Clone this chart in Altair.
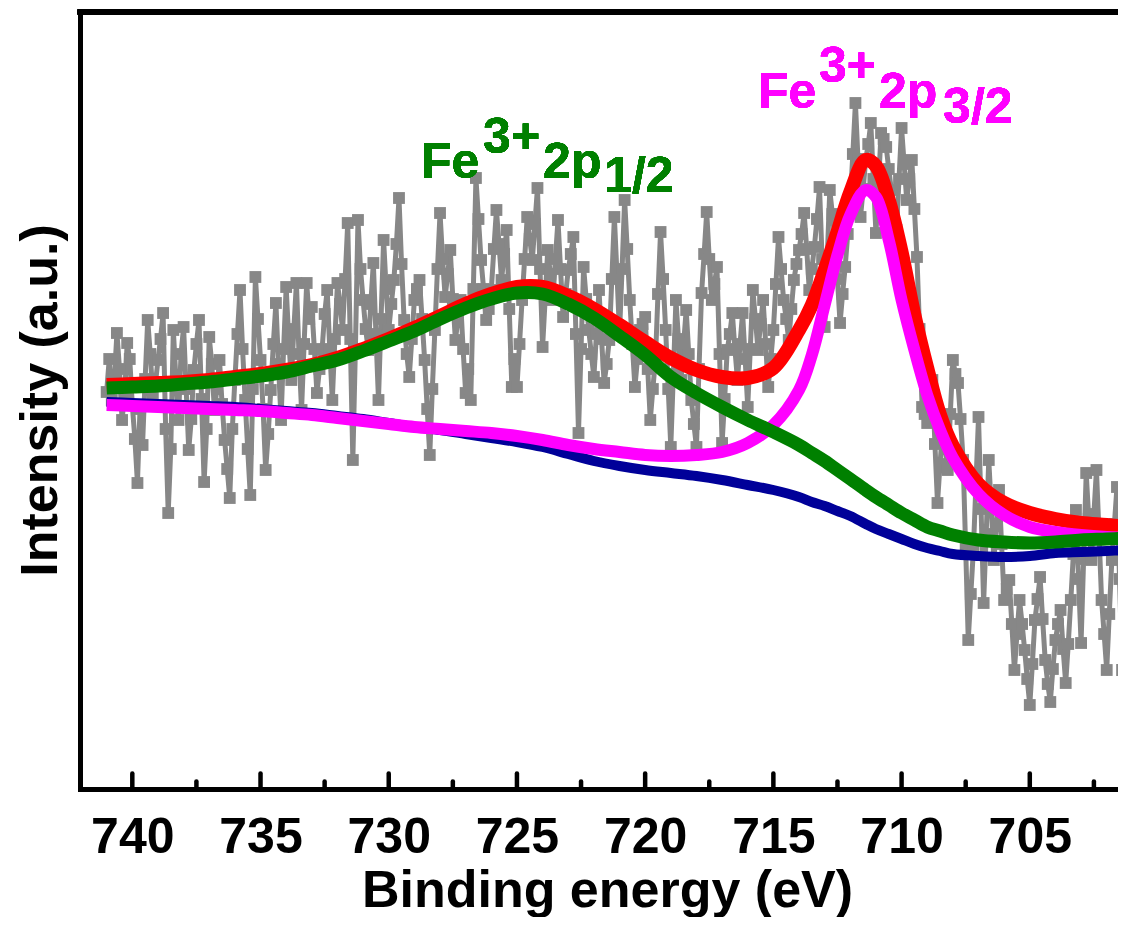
import altair as alt
import pandas as pd

# ---------------- data ----------------
BE_START = 741.0   # first raw point, eV
BE_STEP = 0.1      # scan step, eV

raw_counts = [
    3.97, 4.30, 3.89, 4.10, 4.56, 4.20, 3.69, 3.95, 4.46, 4.30, 3.84, 3.50, 3.06, 3.80, 3.44, 4.10, 4.69, 4.35, 3.94, 4.05,
    4.29, 4.50, 4.76, 3.60, 2.76, 3.40, 4.59, 4.10, 3.69, 4.35, 4.62, 4.00, 3.39, 3.70, 4.19, 4.45, 4.69, 3.90, 3.07, 3.60,
    4.52, 4.25, 3.79, 4.00, 4.29, 3.85, 3.49, 3.20, 2.91, 3.60, 4.09, 4.55, 4.99, 4.40, 3.89, 3.40, 2.94, 4.00, 5.12, 4.70,
    4.29, 3.80, 3.19, 3.55, 3.99, 4.45, 4.86, 4.25, 3.69, 4.40, 5.02, 4.50, 4.09, 4.60, 5.06, 4.35, 3.79, 4.45, 5.06, 4.70,
    4.82, 4.40, 3.96, 4.20, 4.39, 4.75, 4.99, 4.40, 3.89, 4.50, 5.06, 4.85, 4.59, 5.10, 5.66, 4.50, 3.29, 4.40, 5.69, 5.20,
    4.89, 4.60, 4.39, 4.85, 5.26, 4.55, 3.89, 4.70, 5.49, 5.00, 4.59, 4.85, 5.09, 5.45, 5.91, 5.25, 4.69, 4.35, 4.12, 4.50,
    4.89, 5.00, 5.09, 4.70, 4.29, 3.80, 3.34, 4.00, 4.59, 5.20, 5.76, 5.30, 4.92, 5.15, 5.39, 4.90, 4.49, 4.70, 4.89, 4.40,
    3.96, 4.20, 3.89, 5.00, 6.11, 5.70, 5.29, 5.00, 4.69, 4.80, 4.99, 5.40, 5.79, 5.45, 5.09, 5.35, 5.59, 4.80, 4.02, 4.30,
    4.02, 4.45, 4.89, 5.30, 5.72, 5.50, 5.29, 5.65, 6.01, 5.20, 4.42, 4.90, 5.39, 5.15, 4.89, 5.30, 5.69, 5.20, 4.72, 4.95,
    5.19, 5.35, 5.52, 4.55, 3.56, 4.40, 5.22, 4.90, 4.59, 4.35, 4.12, 4.55, 4.99, 4.50, 4.06, 4.25, 4.49, 5.10, 5.72, 5.15,
    4.56, 5.20, 5.89, 5.40, 4.89, 4.45, 4.02, 4.30, 4.59, 4.65, 4.72, 4.20, 3.69, 4.00, 4.29, 4.95, 5.57, 5.10, 4.59, 4.00,
    3.42, 4.15, 4.89, 4.50, 4.09, 4.45, 4.79, 4.35, 3.89, 3.65, 3.42, 4.20, 4.96, 5.35, 5.77, 5.30, 4.89, 5.05, 5.22, 4.35,
    3.46, 3.90, 4.39, 4.55, 4.76, 4.40, 4.09, 4.45, 4.76, 4.30, 3.82, 4.40, 4.99, 4.70, 4.39, 4.65, 4.89, 4.45, 4.02, 4.30,
    4.59, 5.05, 5.52, 5.20, 4.89, 4.70, 4.49, 4.80, 5.09, 5.25, 5.39, 5.55, 5.76, 5.40, 4.99, 5.20, 5.42, 5.70, 6.02, 5.30,
    4.62, 5.30, 5.99, 5.75, 5.49, 5.10, 4.66, 4.95, 5.22, 5.55, 5.89, 6.35, 6.86, 6.30, 5.72, 6.00, 6.29, 6.45, 6.66, 6.10,
    5.56, 6.05, 6.56, 6.50, 6.42, 6.20, 5.99, 5.80, 5.59, 6.10, 6.61, 6.25, 5.89, 6.10, 6.29, 5.80, 5.32, 4.60, 3.82, 3.75,
    3.66, 3.90, 4.09, 3.45, 2.86, 3.25, 3.59, 3.40, 3.19, 3.75, 4.29, 4.15, 4.06, 3.70, 3.29, 2.40, 1.49, 1.95, 2.39, 3.05,
    3.72, 2.80, 1.86, 2.55, 3.29, 2.80, 2.29, 2.65, 2.99, 2.45, 1.89, 2.00, 2.09, 1.65, 1.19, 1.55, 1.89, 1.65, 1.39, 1.10,
    0.84, 1.25, 1.69, 1.90, 2.12, 1.70, 1.29, 1.05, 0.87, 1.20, 1.49, 1.65, 1.79, 1.40, 1.06, 1.45, 1.89, 2.35, 2.79, 2.10,
    1.46, 2.30, 3.16, 2.70, 2.29, 2.75, 3.19, 2.55, 1.89, 1.55, 1.19, 1.75, 2.29, 2.65, 3.02, 2.10, 1.19, 1.45, 1.72,
]
be_raw = [round(BE_START - BE_STEP * i, 1) for i in range(len(raw_counts))]

fit_be = [741, 740, 739, 738, 737, 736, 735, 734, 733, 732, 731, 730, 729, 728,
          727, 726, 725, 724, 723, 722, 721, 720, 719, 718, 717, 716, 715, 714,
          713.5, 713, 712.5, 712, 711.4, 711, 710.5, 710, 709.5, 709, 708.5, 708,
          707, 706, 705, 704, 703, 702, 701.2]

envelope = [4.04, 4.05, 4.06, 4.07, 4.09, 4.12, 4.15, 4.19, 4.24, 4.31, 4.40, 4.50,
            4.61, 4.73, 4.85, 4.95, 5.02, 5.02, 4.93, 4.80, 4.64, 4.47, 4.31, 4.19,
            4.12, 4.11, 4.21, 4.59, 4.84, 5.19, 5.57, 5.97, 6.29, 6.23, 5.89, 5.37,
            4.74, 4.21, 3.74, 3.43, 3.05, 2.86, 2.76, 2.70, 2.66, 2.64, 2.62]

peak_2p12 = [4.01, 4.02, 4.03, 4.05, 4.07, 4.10, 4.13, 4.17, 4.23, 4.29, 4.38, 4.48,
             4.58, 4.70, 4.81, 4.90, 4.96, 4.95, 4.85, 4.71, 4.53, 4.34, 4.12, 3.96,
             3.82, 3.69, 3.57, 3.44, 3.36, 3.28, 3.19, 3.10, 2.99, 2.92, 2.84, 2.76,
             2.69, 2.62, 2.58, 2.54, 2.49, 2.47, 2.46, 2.47, 2.49, 2.50, 2.51]

peak_2p32 = [3.84, 3.83, 3.82, 3.81, 3.80, 3.79, 3.78, 3.76, 3.74, 3.71, 3.68, 3.65,
             3.62, 3.60, 3.58, 3.56, 3.53, 3.49, 3.44, 3.40, 3.37, 3.34, 3.33, 3.34,
             3.37, 3.46, 3.64, 3.99, 4.34, 4.84, 5.34, 5.74, 5.99, 5.92, 5.49, 4.89,
             4.39, 3.94, 3.59, 3.31, 2.95, 2.74, 2.62, 2.57, 2.54, 2.52, 2.51]

background = [3.87, 3.86, 3.85, 3.84, 3.83, 3.82, 3.80, 3.78, 3.76, 3.73, 3.70, 3.66,
              3.62, 3.59, 3.55, 3.51, 3.47, 3.42, 3.35, 3.28, 3.23, 3.19, 3.16, 3.13,
              3.09, 3.04, 2.99, 2.92, 2.87, 2.83, 2.78, 2.73, 2.65, 2.60, 2.55, 2.50,
              2.45, 2.41, 2.38, 2.35, 2.33, 2.32, 2.33, 2.36, 2.37, 2.38, 2.39]

major_ticks = [740, 735, 730, 725, 720, 715, 710, 705]
minor_ticks = [737.5, 732.5, 727.5, 722.5, 717.5, 712.5, 707.5, 702.5]

# ---------------- layout / style ----------------
W, H = 1038, 777
X_DOMAIN = [701.56, 742.04]
Y_DOMAIN = [0, 7.77]
FONT = "Liberation Sans"
GRAY, RED, GREEN, MAGENTA, BLUE = "#878787", "#ff0000", "#008000", "#ff00ff", "#000099"

x_scale = alt.Scale(domain=X_DOMAIN, reverse=True, nice=False, zero=False)
y_scale = alt.Scale(domain=Y_DOMAIN, nice=False, zero=False)

x_axis = alt.Axis(
    values=major_ticks, format="d", title="Binding energy (eV)",
    domain=True, domainColor="black", domainWidth=5, domainCap="square",
    ticks=False, tickSize=0, grid=False,
    labelFont=FONT, labelFontSize=50, labelFontWeight="bold", labelColor="black",
    labelPadding=63, labelBaseline="alphabetic", labelFlush=False, labelOverlap=False,
    titleFont=FONT, titleFontSize=52, titleFontWeight="bold", titleColor="black",
    titleX=527, titleY=117, titleBaseline="alphabetic", titleAlign="center",
)
y_axis = alt.Axis(
    title="Intensity (a.u.)",
    domain=True, domainColor="black", domainWidth=5, domainCap="square",
    ticks=False, labels=False, grid=False,
    titleFont=FONT, titleFontSize=52, titleFontWeight="bold", titleColor="black",
    titleX=-24, titleY=388, titleAngle=270, titleBaseline="alphabetic", titleAlign="center",
)


def X(field):
    return alt.X(field, type="quantitative", scale=x_scale, axis=x_axis)


def Y(field):
    return alt.Y(field, type="quantitative", scale=y_scale, axis=y_axis)


raw_df = pd.DataFrame({"be": be_raw, "I": raw_counts})
fit_df = pd.DataFrame({"be": fit_be, "env": envelope, "p1": peak_2p12,
                       "p2": peak_2p32, "bg": background})

raw_base = alt.Chart(raw_df).encode(x=X("be"), y=Y("I"))
raw_line = raw_base.mark_line(color=GRAY, strokeWidth=5)
raw_pts = raw_base.mark_square(color=GRAY, size=140, opacity=1, filled=True)


def fit_line(col, color, width):
    return alt.Chart(fit_df).mark_line(
        color=color, strokeWidth=width, interpolate="catmull-rom"
    ).encode(x=X("be"), y=Y(col))


red = fit_line("env", RED, 14)
blue = fit_line("bg", BLUE, 10)
magenta = fit_line("p2", MAGENTA, 12)
green = fit_line("p1", GREEN, 13)

major_df = pd.DataFrame({"t": major_ticks})
minor_df = pd.DataFrame({"t": minor_ticks})
major = alt.Chart(major_df).mark_rule(color="black", strokeWidth=4.5, strokeCap="round").encode(
    x=X("t"), y=alt.value(H), y2=alt.value(H - 15.5))
minor = alt.Chart(minor_df).mark_rule(color="black", strokeWidth=4.5, strokeCap="round").encode(
    x=X("t"), y=alt.value(H), y2=alt.value(H - 7.5))

top_frame = alt.Chart(major_df).mark_rule(color="black", strokeWidth=5).encode(
    x=alt.value(-2.5), x2=alt.value(W), y=alt.value(0))


def label(text, be, inten, color):
    return alt.Chart(major_df).mark_text(
        text=text, font=FONT, fontSize=50, fontWeight="bold", color=color,
        align="left", baseline="alphabetic",
    ).encode(
        x=alt.X(datum=be, type="quantitative", scale=x_scale, axis=x_axis),
        y=alt.Y(datum=inten, type="quantitative", scale=y_scale, axis=y_axis),
    )


labels = [
    label("Fe", 728.74, 6.11, GREEN),
    label("3+", 726.32, 6.36, GREEN),
    label("2p", 723.98, 6.11, GREEN),
    label("1/2", 721.60, 5.97, GREEN),
    label("Fe", 715.60, 6.81, MAGENTA),
    label("3+", 713.22, 7.07, MAGENTA),
    label("2p", 710.88, 6.81, MAGENTA),
    label("3/2", 708.38, 6.66, MAGENTA),
]

chart = alt.layer(
    raw_line, raw_pts, red, blue, magenta, green, major, minor, top_frame, *labels
).properties(
    width=W, height=H,
    autosize=alt.AutoSizeParams(type="none"),
    padding={"left": 72, "top": 4, "right": 0, "bottom": 128},
).configure_view(strokeWidth=0).configure(background="white")

chart.save("out.html", embed_options={"renderer": "svg", "actions": False})
